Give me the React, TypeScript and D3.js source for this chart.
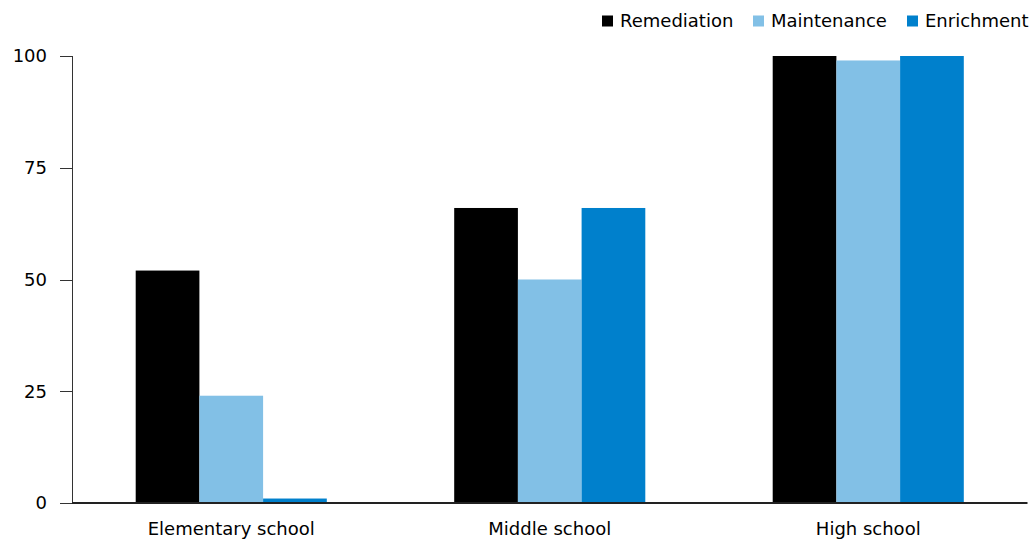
import React from "react";
import * as d3 from "d3";

const categories = ["Elementary school", "Middle school", "High school"];
const seriesNames = ["Remediation", "Maintenance", "Enrichment"];
const remediation = [52, 66, 100];
const maintenance = [24, 50, 99];
const enrichment = [1, 66, 100];
const yTicks = [0, 25, 50, 75, 100];
const colors = ["#000000", "#82c0e6", "#0080cc"];

const W = 1031;
const H = 539;
const FONT = "'DejaVu Sans', sans-serif";

export default function App() {
  const values = [remediation, maintenance, enrichment];
  const x0 = d3.scaleBand<string>().domain(categories).range([72, 1027.5]).paddingInner(0.4).paddingOuter(0.2);
  const x1 = d3.scaleBand<string>().domain(seriesNames).range([0, x0.bandwidth()]);
  const y = d3.scaleLinear().domain([0, 100]).range([503, 56]);

  const legendX = [602, 753, 907];

  return (
    <svg width={W} height={H} style={{ position: "absolute", left: 0, top: 0, background: "#fff" }} fontFamily={FONT}>
      {categories.map((c, ci) =>
        seriesNames.map((s, si) => {
          const v = values[si][ci];
          return (
            <rect
              key={c + s}
              x={(x0(c) as number) + (x1(s) as number)}
              y={y(v)}
              width={x1.bandwidth()}
              height={y(0) - y(v)}
              fill={colors[si]}
            />
          );
        })
      )}
      {/* y axis */}
      <line x1={72.5} x2={72.5} y1={y(100)} y2={y(0)} stroke="#333" strokeWidth={1} />
      {yTicks.map((t) => (
        <g key={t}>
          <line x1={60} x2={72.5} y1={Math.round(y(t)) + 0.5} y2={Math.round(y(t)) + 0.5} stroke="#333" />
          <text x={47} y={y(t)} dy="0.35em" textAnchor="end" fontSize={18} fill="#000">
            {t}
          </text>
        </g>
      ))}
      {/* baseline */}
      <line x1={72} x2={1027.5} y1={y(0)} y2={y(0)} stroke="#222" strokeWidth={2} />
      {categories.map((c) => (
        <text key={c} x={(x0(c) as number) + x0.bandwidth() / 2} y={535} textAnchor="middle" fontSize={18} fill="#000">
          {c}
        </text>
      ))}
      {/* legend */}
      {seriesNames.map((s, i) => (
        <g key={s}>
          <rect x={legendX[i]} y={15.5} width={11} height={11} fill={colors[i]} />
          <text x={legendX[i] + 18} y={27} fontSize={18} fill="#000">
            {s}
          </text>
        </g>
      ))}
    </svg>
  );
}
